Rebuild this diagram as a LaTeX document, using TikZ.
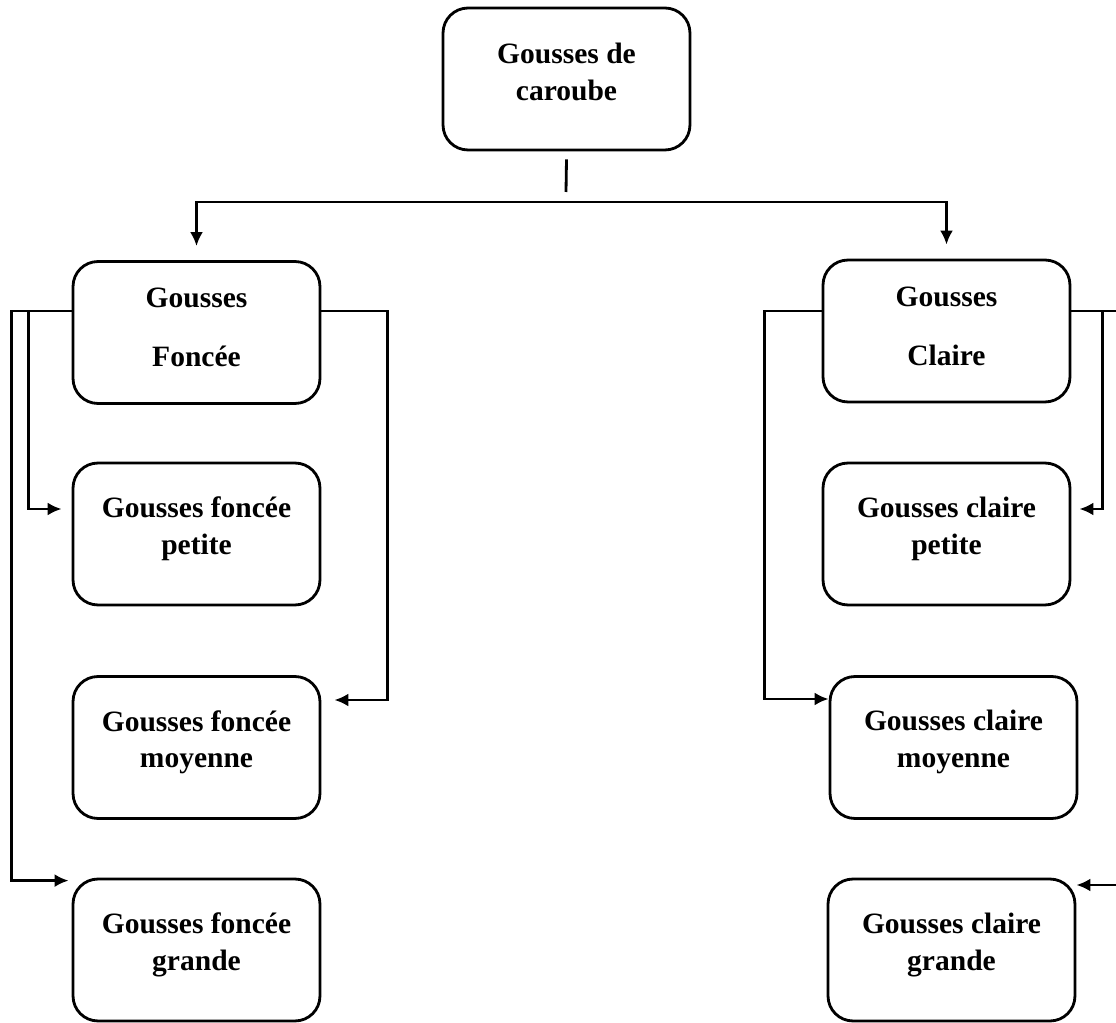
\documentclass[tikz,border=0pt]{standalone}
\usepackage{fontspec}
\setmainfont{Liberation Serif}
\usepackage{tikz}
\usetikzlibrary{calc,arrows.meta}

\begin{document}
\begin{tikzpicture}[x=0.02cm,y=-0.02cm, %单位取成像素, y 轴向下
        boite/.style={draw,line width=1.6pt,rounded corners=0.5cm,minimum width=4.94cm,minimum height=2.84cm,align=center,font=\fontsize{16.8}{21}\selectfont\bfseries},
        fleche/.style={line width=1.6pt,-{Latex[length=0.28cm,width=0.26cm]}}]
        \clip (0,0) rectangle (1116,1023); %裁剪到原图大小
        \node[boite,text depth=8.5pt] (carob) at (566.5,79) {Gousses de\\caroube};
        \node[boite,text depth=5.7pt] (fonc) at (196.5,332.5) {Gousses\\[12.6pt]Foncée};
        \node[boite,text depth=5.7pt] (claire) at (946.5,331) {Gousses\\[12.6pt]Claire};
        \foreach \nom/\x/\y/\a/\b in {fp/196.5/534/foncée/petite, fm/196.5/747.5/foncée/moyenne, fg/196.5/950/foncée/grande,
                                    cp/946.5/534/claire/petite, cm/953.5/747.5/claire/moyenne, cg/951.5/950/claire/grande}{
            \node[boite,text depth=9.5pt] (\nom) at (\x,\y) {Gousses \a\\\b};%每个盒子
        }
        \coordinate (bus) at (566,202);
        \draw[line width=1.6pt] ($(carob.south)+(0,8)$) -- ($(bus)+(0,-10)$);
        \draw[fleche,shorten >=0.28cm] (bus) -| (fonc.north);
        \draw[fleche,shorten >=0.28cm] (bus) -| (claire.north);
        % 左边: 深色
        \draw[fleche] ($(fonc.west)+(0,-21.5)$) -- ++(-60,0) |- ($(fg.north west)+(-3,3)$);
        \draw[fleche] ($(fonc.west)+(-43,-21.5)$) |- ($(fp.west)+(-10,-25)$);
        \draw[fleche] ($(fonc.east)+(0,-21.5)$) -- ++(66,0) |- ($(fm.east)+(13,-47.5)$);
        % 右边: 浅色
        \draw[fleche] ($(claire.west)+(0,-20)$) -- ++(-57,0) |- ($(cm.west)+(0,-48.5)$);
        \draw[line width=1.6pt] ($(claire.east)+(0,-20)$) -- ++(80,0) coordinate (hors);
        \draw[fleche] ($(claire.east)+(31,-20)$) |- ($(cp.east)+(8,-25)$);
        \draw[fleche] (hors) |- ($(cg.east)+(0,-65)$);
    \end{tikzpicture}
\end{document}
